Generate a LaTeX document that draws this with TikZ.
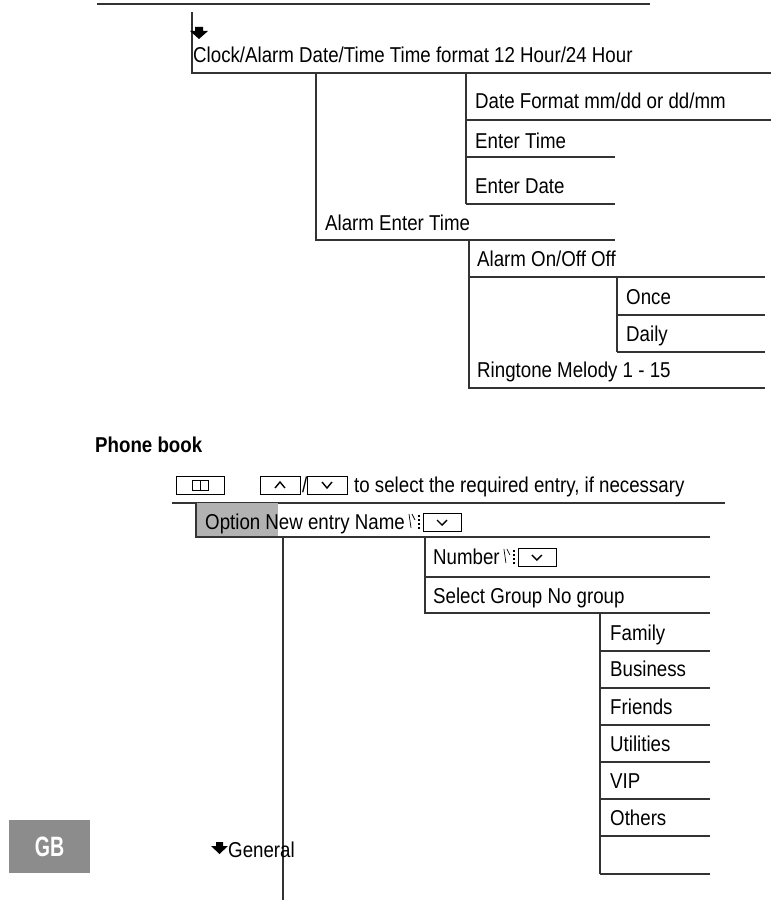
\documentclass[tikz,border=0pt]{standalone}
\usepackage{fontspec}
\setmainfont{Liberation Sans}[FakeStretch=0.87]
\begin{document}
\begin{tikzpicture}[x=1pt,y=-1pt,
  ln/.style={line width=1.3pt,draw=black!80},
  t/.style={anchor=base west,inner sep=0pt,font=\fontsize{21.5}{23}\selectfont},
  key/.style={draw,line width=0.8pt,minimum width=40pt,minimum height=18pt,inner sep=0pt},
  arr/.style={fill=black},
  hand/.pic={\draw[line width=0.7pt] (-6,-8) -- (-4,6) (-3,-8) -- (0,-2);
    \foreach \dy in {-7,-3,1,5} \fill (3,\dy) rectangle (5,\dy+2);}]
\useasboundingbox (0,0) rectangle (771,907);
% ---- clock section
\draw[ln] (97,4) -- (650,4);
\draw[ln] (192,12) -- (192,73) -- (771,73);
\fill[arr] (195,27) -- (203,27) -- (203,31) -- (208,31) -- (199,39) -- (190,31) -- (195,31) -- cycle;
\node[t] (clock) at (193,63) {Clock/Alarm Date/Time Time format 12 Hour/24 Hour};
\draw[ln] (316,73) -- (316,240) -- (615,240);
\draw[ln] (466,73) -- (466,204);
\node[t] (df) at (475,108) {Date Format mm/dd or dd/mm};
\draw[ln] (466,120) -- (771,120);
\node[t] (et) at (475,148) {Enter Time};
\draw[ln] (466,157) -- (615,157);
\node[t] (ed) at (475,193) {Enter Date};
\draw[ln] (466,204) -- (615,204);
\node[t] (al) at (325,230) {Alarm Enter Time};
\draw[ln] (469,240) -- (469,388) -- (765,388);
\node[t] (onoff) at (477,266) {Alarm On/Off Off};
\draw[ln] (469,277) -- (765,277);
\draw[ln] (617,277) -- (617,352);
\node[t] (once) at (626,304) {Once};
\draw[ln] (617,315) -- (765,315);
\node[t] (daily) at (626,341) {Daily};
\draw[ln] (617,352) -- (765,352);
\node[t] (ring) at (477,377) {Ringtone Melody 1 - 15};
% ---- phone book
\node[t,font=\bfseries\fontsize{21.5}{23}\selectfont] (pb) at (95,452) {Phone book};
\node[key,minimum width=48pt] (book) at (200,485) {};
\draw[line width=0.9pt] (192,480) rectangle (200,490) (200,480) rectangle (208,490);
\node[key] (up) at (280,485) {};
\draw[line width=1.4pt] (275,488) -- (280,482) -- (285,488);
\node[t] (sl) at (302,492) {/};
\node[key] (dn) at (327,485) {};
\draw[line width=1.4pt] (322,482) -- (327,488) -- (332,482);
\node[t] (sel) at (354,492) {to select the required entry, if necessary};
\draw[ln] (172,503) -- (725,503);
\fill[black!30] (196,503) rectangle (278,537);
\draw[ln] (196,503) -- (196,537) -- (710,537);
\node[t] (opt) at (205,529) {Option New entry Name};
\pic at ([xshift=10pt]opt.base east |- 0,522) {hand};
\node[key,minimum width=38pt] (nk) at ([xshift=37pt]opt.base east |- 0,522) {};
\draw[line width=1.4pt] ([xshift=-5pt,yshift=2pt]nk.center) -- ([yshift=-3pt]nk.center) -- ([xshift=5pt,yshift=2pt]nk.center);
\draw[ln] (283,537) -- (283,900);
\draw[ln] (425,537) -- (425,613) -- (710,613);
\node[t] (num) at (433,564) {Number};
\pic at ([xshift=10pt]num.base east |- 0,557) {hand};
\node[key,minimum width=38pt] (nk2) at ([xshift=37pt]num.base east |- 0,557) {};
\draw[line width=1.4pt] ([xshift=-5pt,yshift=2pt]nk2.center) -- ([yshift=-3pt]nk2.center) -- ([xshift=5pt,yshift=2pt]nk2.center);
\draw[ln] (425,577) -- (710,577);
\node[t] (sg) at (433,603) {Select Group No group};
\draw[ln] (600,613) -- (600,874);
\foreach \n/\lab/\yy in {fa/Family/640, bu/Business/676, fr/Friends/714, ut/Utilities/751, vi/VIP/788, ot/Others/825} {
  \node[t] (\n) at (610,\yy) {\lab};
}
\foreach \yy in {651,688,725,762,799,836,874} \draw[ln] (600,\yy) -- (710,\yy);
% ---- GB & General
\node[fill=black!45,minimum width=81pt,minimum height=53pt,inner sep=0pt,text=white,font=\bfseries\fontsize{28}{30}\selectfont] (gb) at (49.5,846.5) {\addfontfeature{FakeStretch=0.7}GB};
\fill[arr] (216,842) -- (223,842) -- (223,846) -- (228,846) -- (219.5,854) -- (211,846) -- (216,846) -- cycle;
\node[t] (gen) at (228,857) {General};
\end{tikzpicture}
\end{document}
